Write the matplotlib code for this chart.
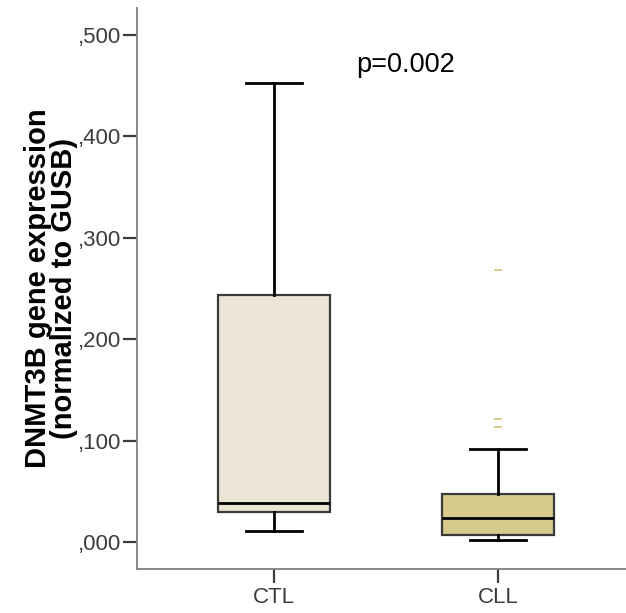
import matplotlib
matplotlib.use("Agg")
import matplotlib.pyplot as plt

plt.rcParams["font.family"] = ["Liberation Sans", "DejaVu Sans"]

groups = ["CTL", "CLL"]
whislo = [0.011, 0.002]
q1 = [0.0296, 0.007]
med = [0.0385, 0.0237]
q3 = [0.244, 0.047]
whishi = [0.453, 0.092]
outliers = [[], [0.268, 0.1215, 0.1135]]
fills = ["#ECE5D5", "#D6CB8D"]

y_ticks = [0.0, 0.1, 0.2, 0.3, 0.4, 0.5]
y_tick_labels = [",000", ",100", ",200", ",300", ",400", ",500"]

stats = []
for i, g in enumerate(groups):
    stats.append({"label": g, "whislo": whislo[i], "q1": q1[i], "med": med[i],
                  "q3": q3[i], "whishi": whishi[i], "fliers": outliers[i]})

fig = plt.figure(figsize=(6.26, 6.13), dpi=100)
ax = fig.add_axes([0.2188, 0.0718, 0.7812, 0.9152])

bp = ax.bxp(stats, positions=[1, 2], widths=0.5, patch_artist=True,
            showfliers=True,
            boxprops=dict(edgecolor="#3a3a3a", linewidth=1.6),
            medianprops=dict(color="black", linewidth=2),
            whiskerprops=dict(color="black", linewidth=2),
            capprops=dict(color="black", linewidth=2),
            capwidths=0.25,
            flierprops=dict(marker="_", markersize=6, markeredgecolor="#D4C27A",
                            markeredgewidth=1.2, linestyle="none"))
for patch, c in zip(bp["boxes"], fills):
    patch.set_facecolor(c)

ax.set_xlim(0.388, 2.571)
ax.set_ylim(-0.0266, 0.5266)
ax.set_yticks(y_ticks)
ax.set_yticklabels(y_tick_labels)
ax.set_xticks([1, 2])
ax.set_xticklabels(groups)

for s in ["top", "right"]:
    ax.spines[s].set_visible(False)
for s in ["left", "bottom"]:
    ax.spines[s].set_color("#808080")
    ax.spines[s].set_linewidth(1.3)
ax.tick_params(axis="both", colors="#3c3c3c", labelsize=16, length=10, width=1.6)
ax.tick_params(axis="y", pad=1.5)
ax.tick_params(axis="x", pad=3)

ax.set_ylabel("DNMT3B gene expression\n(normalized to GUSB)", fontsize=21,
              fontweight="bold", linespacing=0.92)
ax.yaxis.set_label_coords(-0.121, 0.5)

ax.text(1.589, 0.470, "p=0.002", fontsize=19.5, ha="center", va="center")

fig.savefig("out.png", dpi=100)
